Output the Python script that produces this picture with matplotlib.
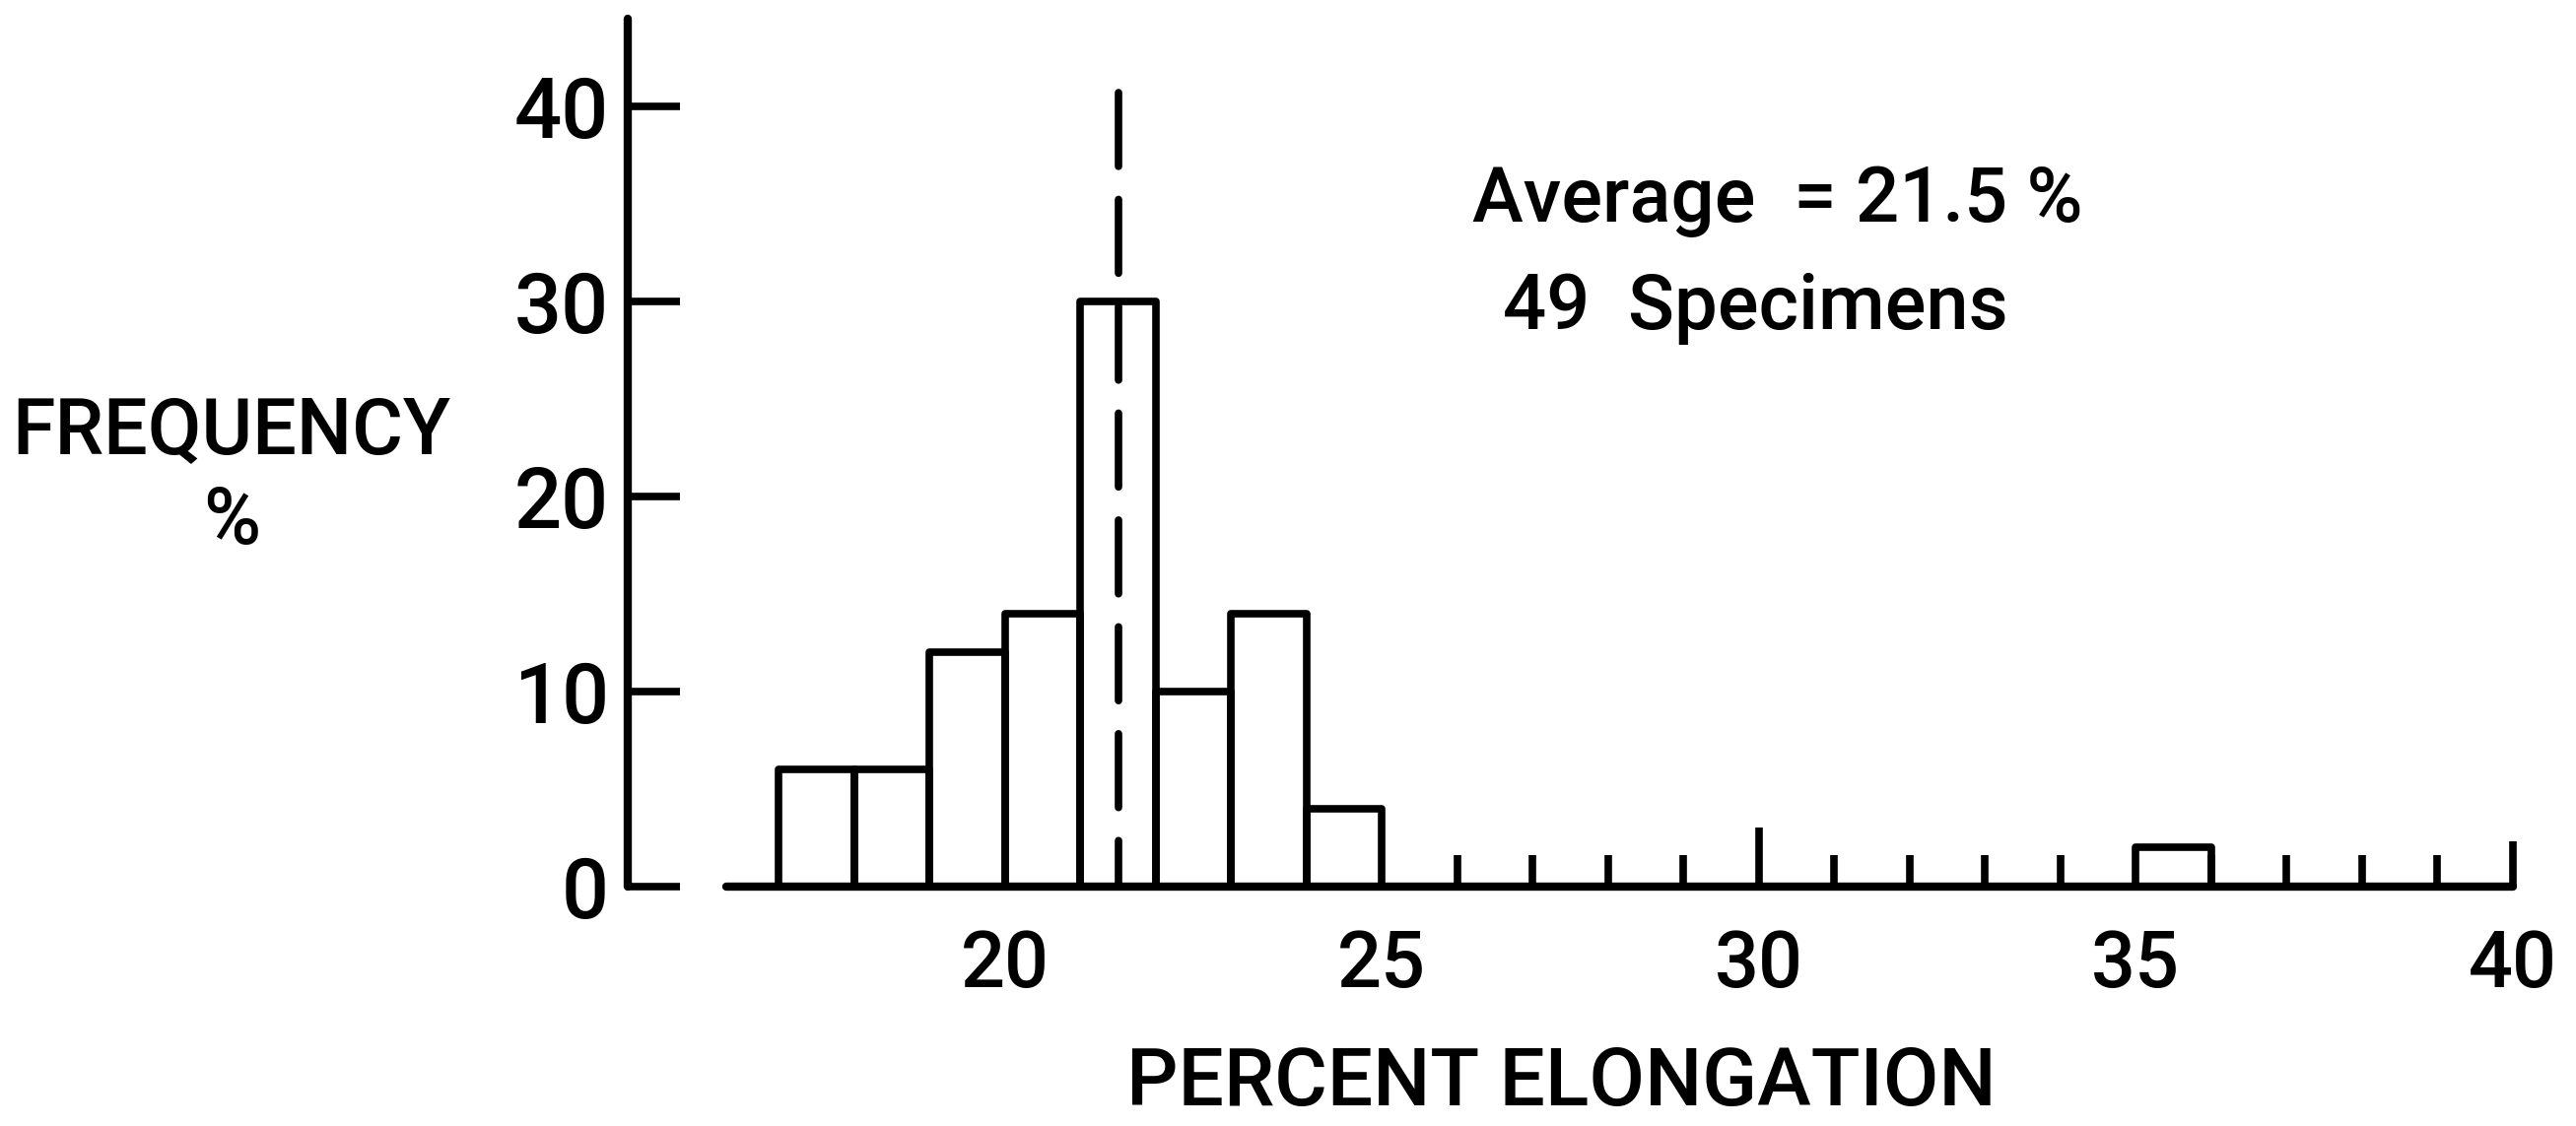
import matplotlib
matplotlib.use("Agg")
import matplotlib.pyplot as plt

# ---- data ----
bin_left = [17, 18, 19, 20, 21, 22, 23, 24, 35]
freq_pct = [6, 6, 12, 14, 30, 10, 14, 4, 2]
average = 21.5
n_specimens = 49
x_major = [20, 25, 30, 35, 40]
x_minor = [26, 27, 28, 29, 31, 32, 33, 34, 36, 37, 38, 39]
y_ticks = [0, 10, 20, 30, 40]

plt.rcParams['font.family'] = ['Roboto', 'DejaVu Sans']
plt.rcParams['font.weight'] = 'medium'
plt.rcParams['axes.labelweight'] = 'medium'

fig = plt.figure(figsize=(26.14, 11.43), dpi=100)
ax = fig.add_axes([0, 0, 1, 1])
ax.set_xlim(6.667, 40.84)
ax.set_ylim(-12.27, 45.45)
ax.patch.set_visible(False)

LW = 5.5
ax.bar(bin_left, freq_pct, width=1, align='edge', fill=False,
       edgecolor='black', linewidth=LW, joinstyle='round')

# average dashed line
ax.plot([average, average], [40.7, 0], color='black', lw=5.5,
        dashes=(9.8, 4.4), dash_capstyle='round')

# spines
for s in ['top', 'right']:
    ax.spines[s].set_visible(False)
ax.spines['left'].set_position(('data', 15))
ax.spines['left'].set_bounds(0, 44.5)
ax.spines['bottom'].set_position(('data', 0))
ax.spines['bottom'].set_bounds(16.3, 40)
for s in ['left', 'bottom']:
    ax.spines[s].set_linewidth(6)
    ax.spines[s].set_capstyle('round')

# y ticks
ax.set_yticks(y_ticks)
ax.set_yticklabels([str(v) for v in y_ticks])
ax.tick_params(axis='y', direction='in', length=38, width=LW, pad=14,
               labelsize=61)

# x ticks
ax.set_xticks(x_major)
ax.set_xticklabels([str(v) for v in x_major])
ax.set_xticks(x_minor, minor=True)
ax.tick_params(axis='x', which='major', direction='in', length=40, width=LW,
               pad=30, labelsize=57)
ax.tick_params(axis='x', which='minor', direction='in', length=23, width=LW)
major_len = {20: 0, 25: 0, 30: 43, 35: 0, 40: 33}
for t, v in zip(ax.xaxis.get_major_ticks(), x_major):
    t.tick1line.set_markersize(major_len[v])

# labels
ax.set_xlabel('PERCENT ELONGATION', fontsize=59, va='center',
              fontweight='medium')
ax.xaxis.set_label_coords(0.606, 0.0376)
ax.set_ylabel('FREQUENCY\n%', fontsize=57, rotation=0, ha='center',
              va='center', linespacing=1.25, fontweight='medium')
ax.yaxis.set_label_coords(0.09, 0.576)

# annotation
ax.text(26.2, 34.1, f'Average  = {average} %', fontsize=56, va='baseline',
        ha='left')
ax.text(26.6, 28.6, f'{n_specimens}  Specimens', fontsize=56, va='baseline',
        ha='left')

fig.savefig('out.png', dpi=100)
